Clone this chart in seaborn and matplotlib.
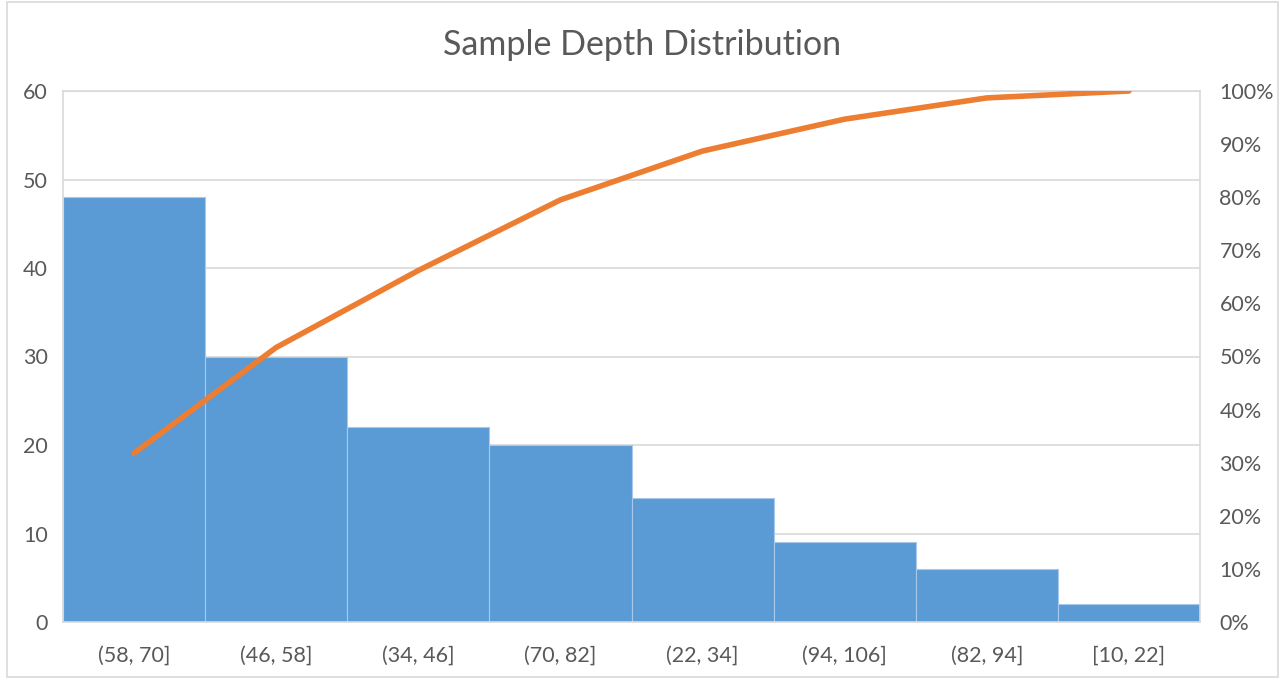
import matplotlib
matplotlib.use("Agg")
import matplotlib.pyplot as plt
import seaborn as sns
import pandas as pd
from matplotlib.patches import Rectangle
from matplotlib.ticker import PercentFormatter, MultipleLocator

categories = ["(58, 70]", "(46, 58]", "(34, 46]", "(70, 82]", "(22, 34]", "(94, 106]", "(82, 94]", "[10, 22]"]
counts = [48, 30, 22, 20, 14, 9, 6, 2]
cumulative_pct = [0.318, 0.517, 0.662, 0.795, 0.887, 0.947, 0.987, 1.0]

sns.set_theme(style="white")
plt.rcParams['font.family'] = ['Lato', 'DejaVu Sans']

df = pd.DataFrame({"bin": categories, "count": counts, "cum": cumulative_pct})

fig = plt.figure(figsize=(12.84, 6.79), dpi=100)
ax = fig.add_axes([63/1284, 1-622/679, (1200-63)/1284, (622-91)/679])

sns.barplot(data=df, x="bin", y="count", ax=ax, color="#5B9BD5", saturation=1,
            width=1.0, edgecolor="#A9C8EA", linewidth=0.8)
ax.set_xlim(-0.5, len(categories)-0.5)
ax.set_ylim(0, 60)
ax.yaxis.set_major_locator(MultipleLocator(10))
ax.grid(axis="y", color="#D9D9D9", linewidth=1.2)
ax.set_axisbelow(True)
ax.set_xlabel("")
ax.set_ylabel("")
for s in ax.spines.values():
    s.set_color("#D9D9D9")
    s.set_linewidth(1.2)
ax.tick_params(axis="both", length=0, labelsize=15.5, colors="#595959")
ax.tick_params(axis="x", pad=17)
ax.tick_params(axis="y", pad=11)

ax2 = ax.twinx()
sns.lineplot(data=df, x="bin", y="cum", ax=ax2, color="#ED7D31", linewidth=4,
             solid_capstyle="round", sort=False)
ax2.set_ylim(0, 1)
ax2.yaxis.set_major_locator(MultipleLocator(0.1))
ax2.yaxis.set_major_formatter(PercentFormatter(1.0, decimals=0))
ax2.set_ylabel("")
ax2.tick_params(axis="y", length=0, labelsize=15.5, colors="#595959", pad=14)
for s in ax2.spines.values():
    s.set_visible(False)
ax2.grid(False)

fig.text(0.5, 1-45/679, "Sample Depth Distribution", ha="center", va="center",
         fontsize=24.5, color="#595959")

fig.patches.append(Rectangle((7/1284, 2/679), 1271/1284, 675/679, transform=fig.transFigure,
                             fill=False, edgecolor="#D9D9D9", linewidth=1.2))

fig.savefig("out.png", dpi=100)
